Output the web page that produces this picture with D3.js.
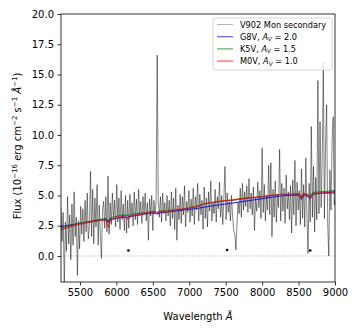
<!DOCTYPE html>
<meta charset="utf-8">
<head>
<style>
    body {margin: 0; background: #fff;}
    svg text {font-family: "DejaVu Sans"; fill: #000;}
</style>
<script src="https://d3js.org/d3.v7.min.js"></script>
</head>
<body>
<div id="spectrum"></div>
<script>

// observed spectrum, one value every 15 A starting at 5240 A
var specStart = 5240;
var specStep = 15;
var specFlux = [
    4.0, 1.2, 3.6, -2.6, 2.8, 0.4, 4.9, 1.0, 3.4, -0.3,
    4.3, 0.9, 5.3, 1.6, 3.2, -1.6, 2.9, 0.6, 4.1, 1.8,
    3.9, 1.2, 4.6, 2.0, 5.2, 1.4, 2.5, 7.0, 1.6, 5.5,
    1.0, 4.8, 2.4, 5.9, 0.9, 4.2, 1.7, -0.2, 3.8, 4.5,
    2.3, 4.9, 2.0, 6.6, 1.8, 4.4, 2.6, 5.2, 3.1, 4.6,
    2.4, 5.9, 2.8, 4.8, 2.2, 5.4, 3.0, 4.3, 2.1, 5.0,
    1.9, 4.6, 2.3, 5.1, 3.2, 4.4, 2.5, 5.3, 3.0, 4.7,
    2.6, 5.5, 3.4, 4.5, 2.7, 4.9, 3.5, 5.2, 2.9, 4.4,
    1.3, 4.7, 3.3, 5.0, 2.1, 4.6, 3.6, 4.3, 16.6, 4.6,
    3.2, 4.9, 2.8, 5.2, 3.5, 4.4, 2.9, 5.0, 3.3, 4.6,
    2.5, 5.3, 3.1, 4.8, 2.2, 5.6, 1.3, 4.2, 3.0, 5.1,
    2.7, 4.9, 3.4, 5.8, 2.4, 4.5, 3.6, 5.4, 2.8, 4.7,
    3.3, 5.6, 2.6, 4.9, 3.8, 6.0, 2.9, 5.1, 3.4, 4.6,
    2.2, 5.7, 3.1, 4.8, 2.4, 5.3, 3.7, 6.2, 2.9, 4.4,
    3.5, 5.5, 2.8, 4.9, 3.9, 6.1, 3.2, 5.0, 2.6, 4.8,
    7.4, 3.0, 5.2, 3.6, 4.5, 2.9, 5.0, 3.3, 2.1, 1.8,
    0.5, 2.6, 4.4, 3.5, 5.6, 3.2, 6.0, 3.8, 5.3, 4.1,
    5.8, 3.6, 6.4, 3.9, 5.2, 3.4, 5.7, 2.1, 4.8, 3.7,
    6.1, 4.0, 5.4, 3.1, 8.9, 3.6, 5.9, 2.9, 5.0, 3.8,
    7.5, 3.4, 7.7, 1.6, 5.5, 3.2, 6.2, 2.8, 5.1, 4.0,
    8.8, 2.9, 6.0, 3.7, 5.6, 2.7, 6.7, 3.9, 5.3, 3.0,
    5.8, 1.9, 6.3, 3.4, 7.9, 2.5, 6.1, 3.8, 5.4, 2.6,
    7.2, 3.1, 5.9, 2.4, 8.1, 3.3, 0.2, 6.0, 2.8, 10.7,
    3.2, 7.4, 2.0, 6.5, 3.0, 14.5, 3.5, 11.1, 4.0, 8.0,
    16.0, 3.1, 9.2, 12.5, 2.6, 0.0, 7.1, 3.8, 9.5, 11.5,
    4.2, 5.0
];

// template spectra (reddened)
var modelWave = [5240, 5300, 5400, 5500, 5600, 5700, 5800, 5860, 5890, 5920,
    6000, 6100, 6160, 6200, 6300, 6400, 6500, 6560, 6600, 6700,
    6800, 6900, 7000, 7100, 7200, 7300, 7400, 7500, 7600, 7700,
    7800, 7900, 8000, 8100, 8200, 8300, 8400, 8500, 8540, 8570,
    8620, 8660, 8700, 8800, 8900, 9000];
var g8vFlux = [2.45, 2.50, 2.60, 2.70, 2.80, 2.88, 2.97, 3.00, 2.80, 3.02,
    3.12, 3.20, 3.22, 3.28, 3.38, 3.47, 3.55, 3.45, 3.58, 3.64,
    3.70, 3.78, 3.86, 3.93, 4.03, 4.13, 4.22, 4.30, 4.38, 4.47,
    4.57, 4.65, 4.74, 4.82, 4.92, 4.98, 5.02, 5.05, 4.70, 5.05,
    4.95, 4.75, 5.10, 5.18, 5.25, 5.30];
var k5vFlux = [2.30, 2.40, 2.55, 2.70, 2.82, 2.95, 3.05, 3.10, 2.90, 3.15,
    3.28, 3.40, 3.35, 3.45, 3.52, 3.60, 3.70, 3.62, 3.72, 3.75,
    3.82, 3.88, 3.98, 4.10, 4.30, 4.42, 4.52, 4.58, 4.64, 4.72,
    4.80, 4.86, 4.92, 5.00, 5.06, 5.10, 5.12, 5.16, 4.90, 5.20,
    5.10, 4.95, 5.25, 5.30, 5.35, 5.40];
var m0vFlux = [2.15, 2.30, 2.48, 2.62, 2.75, 2.88, 2.95, 2.95, 2.40, 2.95,
    3.15, 3.30, 3.05, 3.30, 3.40, 3.52, 3.62, 3.55, 3.68, 3.62,
    3.80, 3.85, 3.95, 4.07, 4.30, 4.40, 4.48, 4.57, 4.62, 4.70,
    4.78, 4.84, 4.90, 4.97, 5.04, 5.08, 5.10, 5.12, 4.75, 5.15,
    5.05, 4.80, 5.15, 5.18, 5.20, 5.18];

// telluric markers
var markWave = [6165, 7520, 8660];
var markFlux = [0.45, 0.5, 0.45];

var xTicks = [5500, 6000, 6500, 7000, 7500, 8000, 8500, 9000];
var yTicks = [0, 2.5, 5, 7.5, 10, 12.5, 15, 17.5, 20];

var legendNames = ["V902 Mon secondary", "G8V", "K5V", "M0V"];
var legendAv = [null, "2.0", "1.5", "1.0"];
var legendColors = ["#000", "blue", "green", "red"];

var width = 357, height = 332;
var plotLeft = 61, plotRight = 335, plotTop = 14, plotBottom = 282;

var svg = d3.select("#spectrum").append("svg")
    .attr("width", width)
    .attr("height", height);

var x = d3.scaleLinear().domain([5240, 9000]).range([plotLeft, plotRight]);
var y = d3.scaleLinear().domain([-2.15, 20]).range([plotBottom, plotTop]);

svg.append("clipPath").attr("id", "plotclip")
    .append("rect")
    .attr("x", plotLeft).attr("y", plotTop)
    .attr("width", plotRight - plotLeft).attr("height", plotBottom - plotTop);

var plot = svg.append("g").attr("clip-path", "url(#plotclip)");

// zero level
plot.append("line")
    .attr("x1", x(5240)).attr("x2", x(9000))
    .attr("y1", y(0)).attr("y2", y(0))
    .style("stroke", "#888")
    .style("stroke-width", 0.6)
    .style("stroke-dasharray", "1,1.3");

var specLine = d3.line()
    .x(function(d, i) { return x(specStart + i * specStep); })
    .y(function(d) { return y(d); });

plot.append("path")
    .datum(specFlux)
    .attr("d", specLine)
    .style("fill", "none")
    .style("stroke", "#000")
    .style("stroke-width", 0.6)
    .style("stroke-opacity", 0.8);

var modelLine = d3.line()
    .x(function(d, i) { return x(modelWave[i]); })
    .y(function(d) { return y(d); });

[g8vFlux, k5vFlux, m0vFlux].forEach(function(f, i) {
    plot.append("path")
        .datum(f)
        .attr("d", modelLine)
        .style("fill", "none")
        .style("stroke", legendColors[i + 1])
        .style("stroke-width", 1.1)
        .style("stroke-opacity", 0.85);
});

plot.selectAll("circle.mark")
    .data(markWave)
    .enter().append("circle")
    .attr("class", "mark")
    .attr("cx", function(d) { return x(d); })
    .attr("cy", function(d, i) { return y(markFlux[i]); })
    .attr("r", 1.3)
    .style("fill", "#000");

// axes
var xAxis = svg.append("g")
    .attr("transform", "translate(0," + plotBottom + ")")
    .call(d3.axisBottom(x).tickValues(xTicks).tickSize(3.5).tickPadding(3.5).tickFormat(d3.format("d")));
var yAxis = svg.append("g")
    .attr("transform", "translate(" + plotLeft + ",0)")
    .call(d3.axisLeft(y).tickValues(yTicks).tickSize(3.5).tickPadding(3.5).tickFormat(d3.format(".1f")));

[xAxis, yAxis].forEach(function(a) {
    a.select(".domain").remove();
    a.selectAll("line").style("stroke", "#000").style("stroke-width", 0.8);
    a.selectAll("text").style("font-size", "10px").style("font-family", "DejaVu Sans");
});

svg.append("rect")
    .attr("x", plotLeft).attr("y", plotTop)
    .attr("width", plotRight - plotLeft).attr("height", plotBottom - plotTop)
    .style("fill", "none")
    .style("stroke", "#000")
    .style("stroke-width", 0.8);

// axis labels
var xl = svg.append("text")
    .attr("x", (plotLeft + plotRight) / 2)
    .attr("y", 320)
    .attr("text-anchor", "middle")
    .style("font-size", "10px");
xl.append("tspan").text("Wavelength ");
xl.append("tspan").style("font-style", "italic").text("Å");

var yl = svg.append("text")
    .attr("transform", "translate(21," + ((plotTop + plotBottom) / 2 - 2) + ") rotate(-90)")
    .attr("text-anchor", "middle")
    .style("font-size", "10px");
var ylParts = [["Flux (10", null], ["−16", "sup"], [" erg cm", null], ["−2", "sup"],
    [" s", null], ["−1", "sup"], [" Å", "it"], ["−1", "sup"], [")", null]];
ylParts.forEach(function(p) {
    var t = yl.append("tspan").text(p[0]);
    if (p[1] == "sup") {
        t.attr("dy", -4).style("font-size", "7px");
    } else if (p[1] == "it") {
        t.attr("dy", 4).style("font-style", "italic");
    } else {
        t.attr("dy", 4);
    }
});
yl.select("tspan").attr("dy", 0);

// legend
var lg = svg.append("g");
lg.append("rect")
    .attr("x", 213).attr("y", 18)
    .attr("width", 119).attr("height", 52)
    .attr("rx", 2)
    .style("fill", "#fff")
    .style("fill-opacity", 0.8)
    .style("stroke", "#ccc")
    .style("stroke-width", 0.8);

legendNames.forEach(function(name, i) {
    var ly = 24.5 + i * 12.2;
    lg.append("line")
        .attr("x1", 217).attr("x2", 233)
        .attr("y1", ly).attr("y2", ly)
        .style("stroke", legendColors[i])
        .style("stroke-width", i == 0 ? 0.5 : 1.1)
        .style("stroke-opacity", i == 0 ? 0.6 : 0.7);
    var t = lg.append("text")
        .attr("x", 240).attr("y", ly + 3)
        .style("font-size", "8.2px");
    if (legendAv[i] == null) {
        t.text(name);
    } else {
        t.append("tspan").text(name + ", ");
        t.append("tspan").style("font-style", "italic").text("A");
        t.append("tspan").style("font-style", "italic").style("font-size", "5.8px").attr("dy", 1.5).text("V");
        t.append("tspan").attr("dy", -1.5).text(" = " + legendAv[i]);
    }
});

</script>
</body>
